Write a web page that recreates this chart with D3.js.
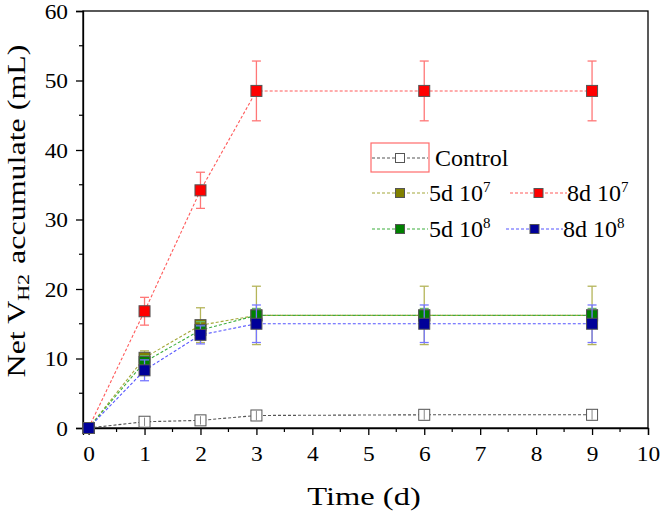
<!DOCTYPE html>
<html><head><meta charset="utf-8">
<script src="https://cdn.jsdelivr.net/npm/d3@7"></script>
<style>body{margin:0;background:#fff}svg{display:block}text{font-family:"Liberation Serif";fill:#000}</style>
</head><body><svg id="c" width="661" height="517"></svg>
<script>
const times = [0, 1, 2, 3, 6, 9];
const controlVals = [0, 0.9, 1.1, 1.8, 1.9, 1.9];
const controlErr  = [0, 0.6, 0.6, 0.7, 0.7, 0.7];
const d5e7Vals = [0, 10.1, 14.8, 16.2, 16.2, 16.2];
const d5e7Err  = [0, 1.0, 2.5, 4.2, 4.2, 4.2];
const d8e7Vals = [0, 16.8, 34.2, 48.5, 48.5, 48.5];
const d8e7Err  = [0, 2.0, 2.6, 4.3, 4.3, 4.3];
const d5e8Vals = [0, 9.5, 14.1, 16.2, 16.2, 16.2];
const d5e8Err  = [0, 0.9, 1.2, 1.0, 1.0, 1.0];
const d8e8Vals = [0, 8.3, 13.4, 15.0, 15.0, 15.0];
const d8e8Err  = [0, 1.5, 1.3, 2.7, 2.7, 2.7];
const xTicks = [0,1,2,3,4,5,6,7,8,9,10];
const yTicks = [0,10,20,30,40,50,60];

const series = [
  {name:"Control", base:"Control", sup:"", vals:controlVals, err:controlErr, fill:"#ffffff", line:"#555555", errc:"#888888"},
  {name:"5d 10^7", base:"5d 10", sup:"7", vals:d5e7Vals, err:d5e7Err, fill:"#808000", line:"#a4a83a", errc:"#b5b55a"},
  {name:"8d 10^7", base:"8d 10", sup:"7", vals:d8e7Vals, err:d8e7Err, fill:"#ff0000", line:"#ff5a5a", errc:"#ff7777"},
  {name:"5d 10^8", base:"5d 10", sup:"8", vals:d5e8Vals, err:d5e8Err, fill:"#008000", line:"#3cae3c", errc:"#66b866"},
  {name:"8d 10^8", base:"8d 10", sup:"8", vals:d8e8Vals, err:d8e8Err, fill:"#000099", line:"#5555ff", errc:"#7777ff"}
];

const FF = "Liberation Serif";
const svg = d3.select("#c");
const L=83, R=648, T=11, B=428;
const x = d3.scaleLinear().domain([-0.1,10]).range([L,R]);
const y = d3.scaleLinear().domain([0,60]).range([B,T]);

svg.append("rect").attr("x",L).attr("y",T).attr("width",R-L).attr("height",B-T)
  .attr("fill","none").attr("stroke","#000").attr("stroke-width",1.3);

const xMinor = d3.range(0.5,10,1);
svg.append("g").selectAll("line").data(xMinor).join("line")
  .attr("x1",d=>x(d)).attr("x2",d=>x(d)).attr("y1",B).attr("y2",B+4).attr("stroke","#000").attr("stroke-width",1.2);
const yMinor = d3.range(5,60,10);
svg.append("g").selectAll("line").data(yMinor).join("line")
  .attr("y1",d=>y(d)).attr("y2",d=>y(d)).attr("x1",L).attr("x2",L-4).attr("stroke","#000").attr("stroke-width",1.2);

const sx = 1.17;
const xa = svg.append("g").attr("transform",`translate(0,${B})`)
  .call(d3.axisBottom(x).tickValues(xTicks).tickSize(7).tickPadding(12).tickFormat(d3.format("d")));
const ya = svg.append("g").attr("transform",`translate(${L},0)`)
  .call(d3.axisLeft(y).tickValues(yTicks).tickSize(7).tickPadding(8).tickFormat(d3.format("d")));
[xa,ya].forEach(a=>{
  a.attr("font-family",FF).attr("font-size",20);
  a.select(".domain").attr("stroke-width",1.3);
  a.selectAll(".tick line").attr("stroke-width",1.3);
  a.selectAll("text").attr("font-family",FF).attr("font-size",20).attr("fill","#000")
    .attr("transform",`scale(${sx},1)`);
});
ya.selectAll("text").attr("x",-15/sx).attr("dy","0.35em");

svg.append("text").attr("transform","scale(1.25,1)").attr("x",364/1.25).attr("y",505)
  .attr("text-anchor","middle").attr("font-family",FF).attr("font-size",26).text("Time (d)");
const yt = svg.append("text").attr("transform","translate(25,211) rotate(-90) scale(1,0.8)")
  .attr("text-anchor","middle").attr("font-family",FF).attr("font-size",32);
yt.append("tspan").text("Net V");
yt.append("tspan").attr("font-size",22).attr("baseline-shift","-25%").text("H2");
yt.append("tspan").attr("dx",2).text(" accumulate (mL)");

const ms = 11;
series.forEach(s=>{
  const pts = times.map((t,i)=>({t, v:s.vals[i], e:s.err[i]}));
  const g = svg.append("g");
  g.append("path").datum(pts)
    .attr("d", d3.line().x(d=>x(d.t)).y(d=>y(d.v)))
    .attr("fill","none").attr("stroke",s.line).attr("stroke-width",1.1).attr("stroke-dasharray","3,2");
  const eb = g.selectAll(".eb").data(pts.filter(p=>p.e>0)).join("g");
  eb.append("line").attr("x1",d=>x(d.t)).attr("x2",d=>x(d.t)).attr("y1",d=>y(d.v-d.e)).attr("y2",d=>y(d.v+d.e))
    .attr("stroke",s.errc).attr("stroke-width",1.3);
  [-1,1].forEach(sg=>{
    eb.append("line").attr("x1",d=>x(d.t)-4.5).attr("x2",d=>x(d.t)+4.5)
      .attr("y1",d=>y(d.v+sg*d.e)).attr("y2",d=>y(d.v+sg*d.e)).attr("stroke",s.errc).attr("stroke-width",1.3);
  });
  g.selectAll("rect").data(pts).join("rect")
    .attr("x",d=>x(d.t)-ms/2).attr("y",d=>y(d.v)-ms/2).attr("width",ms).attr("height",ms)
    .attr("fill",s.fill).attr("stroke","#555").attr("stroke-width",1);
  if (s.name==="Control") {
    g.selectAll(".eb2").data(pts.filter(p=>p.e>0)).join("line")
      .attr("x1",d=>x(d.t)).attr("x2",d=>x(d.t)).attr("y1",d=>y(d.v-d.e)).attr("y2",d=>y(d.v+d.e))
      .attr("stroke",s.errc).attr("stroke-width",1);
  }
});

const legPos = [
  {x0:372, x1:428, tx:435, y:158},
  {x0:372, x1:428, tx:429, y:193},
  {x0:510, x1:567, tx:567, y:193},
  {x0:372, x1:428, tx:429, y:229},
  {x0:506, x1:563, tx:563, y:229}
];
svg.append("rect").attr("x",371).attr("y",143).attr("width",58).attr("height",29)
  .attr("fill","none").attr("stroke","#ff6b6b").attr("stroke-width",1.2);
series.forEach((s,i)=>{
  const p = legPos[i];
  const g = svg.append("g");
  g.append("line").attr("x1",p.x0).attr("x2",p.x1).attr("y1",p.y).attr("y2",p.y)
    .attr("stroke",s.line).attr("stroke-width",1.1).attr("stroke-dasharray","3,2");
  const mx=(p.x0+p.x1)/2, lm=9;
  g.append("rect").attr("x",mx-lm/2).attr("y",p.y-lm/2).attr("width",lm).attr("height",lm)
    .attr("fill",s.fill).attr("stroke","#555").attr("stroke-width",1);
  const t = g.append("text").attr("x",p.tx).attr("y",p.y+8).attr("font-family",FF).attr("font-size",24);
  t.append("tspan").text(s.base);
  if (s.sup) t.append("tspan").attr("font-size",15).attr("baseline-shift","60%").text(s.sup);
});
</script></body></html>
